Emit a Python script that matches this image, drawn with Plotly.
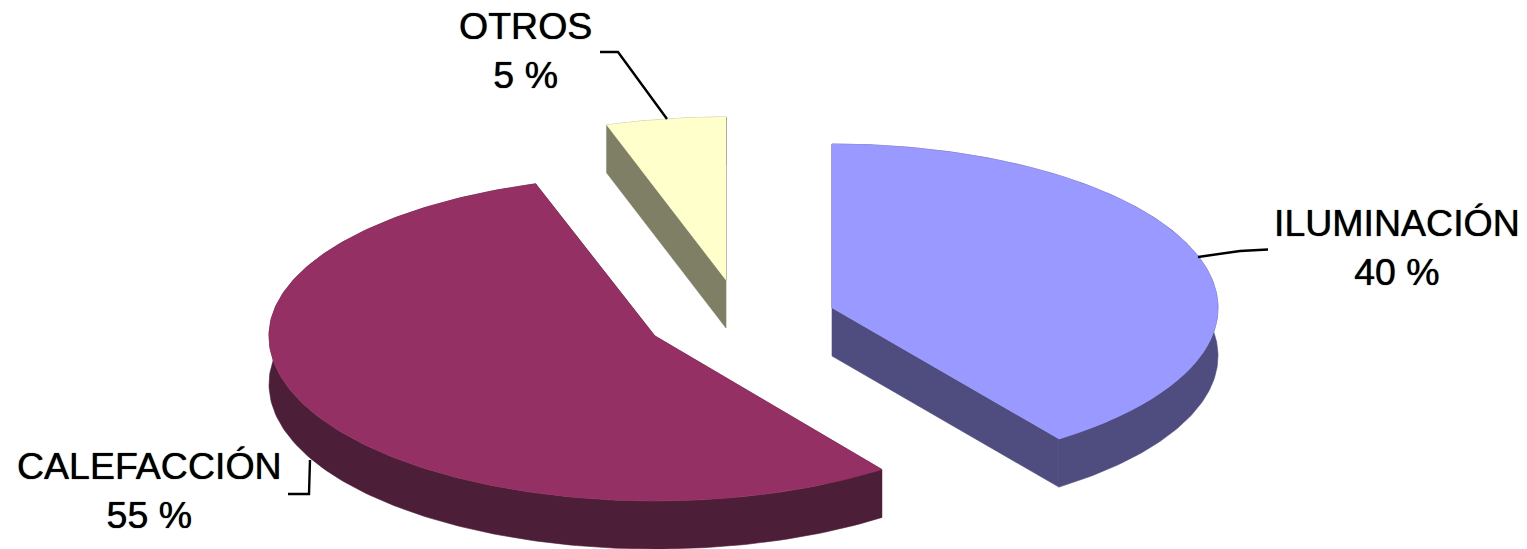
import numpy as np
import plotly.graph_objects as go

categories = ["ILUMINACIÓN", "CALEFACCIÓN", "OTROS"]
values = [40, 55, 5]
top_colors = ["#9999FF", "#953064", "#FFFFCC"]
side_colors = ["#4F4D80", "#4C1E38", "#7F7F66"]

# Pie geometry in image pixels: apex of each exploded slice, ellipse radii, depth
apex = [(832, 308), (655, 336), (726, 280)]
RX, DEPTH = 386, 48
RY_BACK = [164, 160, 163]
RY_FRONT = [162, 165, 163]
label_pos = [(1397, 247), (149, 490), (525, 50)]
leaders = [
    ([1198, 1240, 1268], [257, 251, 249.5]),
    ([288, 309, 310], [494, 494, 460]),
    ([600, 618, 667], [52, 52, 119]),
]
FONT = "Liberation Sans, Arial, sans-serif"

fractions = np.array(values) / sum(values)
ends = np.cumsum(fractions) * 2 * np.pi
starts = ends - fractions * 2 * np.pi


def point(i, t):
    t = np.asarray(t, dtype=float)
    c = apex[i]
    ry = np.where(np.cos(t) > 0, RY_BACK[i], RY_FRONT[i])
    return c[0] + RX * np.sin(t), c[1] - ry * np.cos(t)


fig = go.Figure()


def poly(xs, ys, color):
    fig.add_trace(go.Scatter(x=list(xs), y=list(ys), mode="lines", fill="toself",
                             fillcolor=color, line=dict(width=0.6, color=color),
                             hoverinfo="skip", showlegend=False))


for i in [2, 1, 0]:
    c, a, b = apex[i], starts[i], ends[i]
    t = np.linspace(a, b, 200)
    tx, ty = point(i, t)
    for edge in (a, b):
        ex, ey = point(i, edge)
        poly([c[0], ex, ex, c[0]], [c[1], ey, ey + DEPTH, c[1] + DEPTH], side_colors[i])
    poly(np.r_[tx, tx[::-1]], np.r_[ty, ty[::-1] + DEPTH], side_colors[i])
    poly(np.r_[c[0], tx], np.r_[c[1], ty], top_colors[i])

for lx, ly in leaders:
    fig.add_trace(go.Scatter(x=lx, y=ly, mode="lines", line=dict(color="#000000", width=2.4),
                             hoverinfo="skip", showlegend=False))

for cat, val, (x, y) in zip(categories, values, label_pos):
    fig.add_annotation(x=x, y=y, xref="x", yref="y", text=f"{cat}<br>{val} %", showarrow=False,
                       xanchor="center", yanchor="middle", align="center",
                       font=dict(family=FONT, size=37.5, color="#000000",
                                 shadow="0 0 1px #000000"))

fig.update_layout(
    width=1527, height=549, margin=dict(l=0, r=0, t=0, b=0),
    paper_bgcolor="#FFFFFF", plot_bgcolor="#FFFFFF", showlegend=False,
    xaxis=dict(range=[0, 1527], visible=False, fixedrange=True),
    yaxis=dict(range=[549, 0], visible=False, fixedrange=True),
)
fig.write_html("out.html", config={"displayModeBar": False},
               post_script="document.body.style.margin='0';document.body.style.overflow='hidden';")
